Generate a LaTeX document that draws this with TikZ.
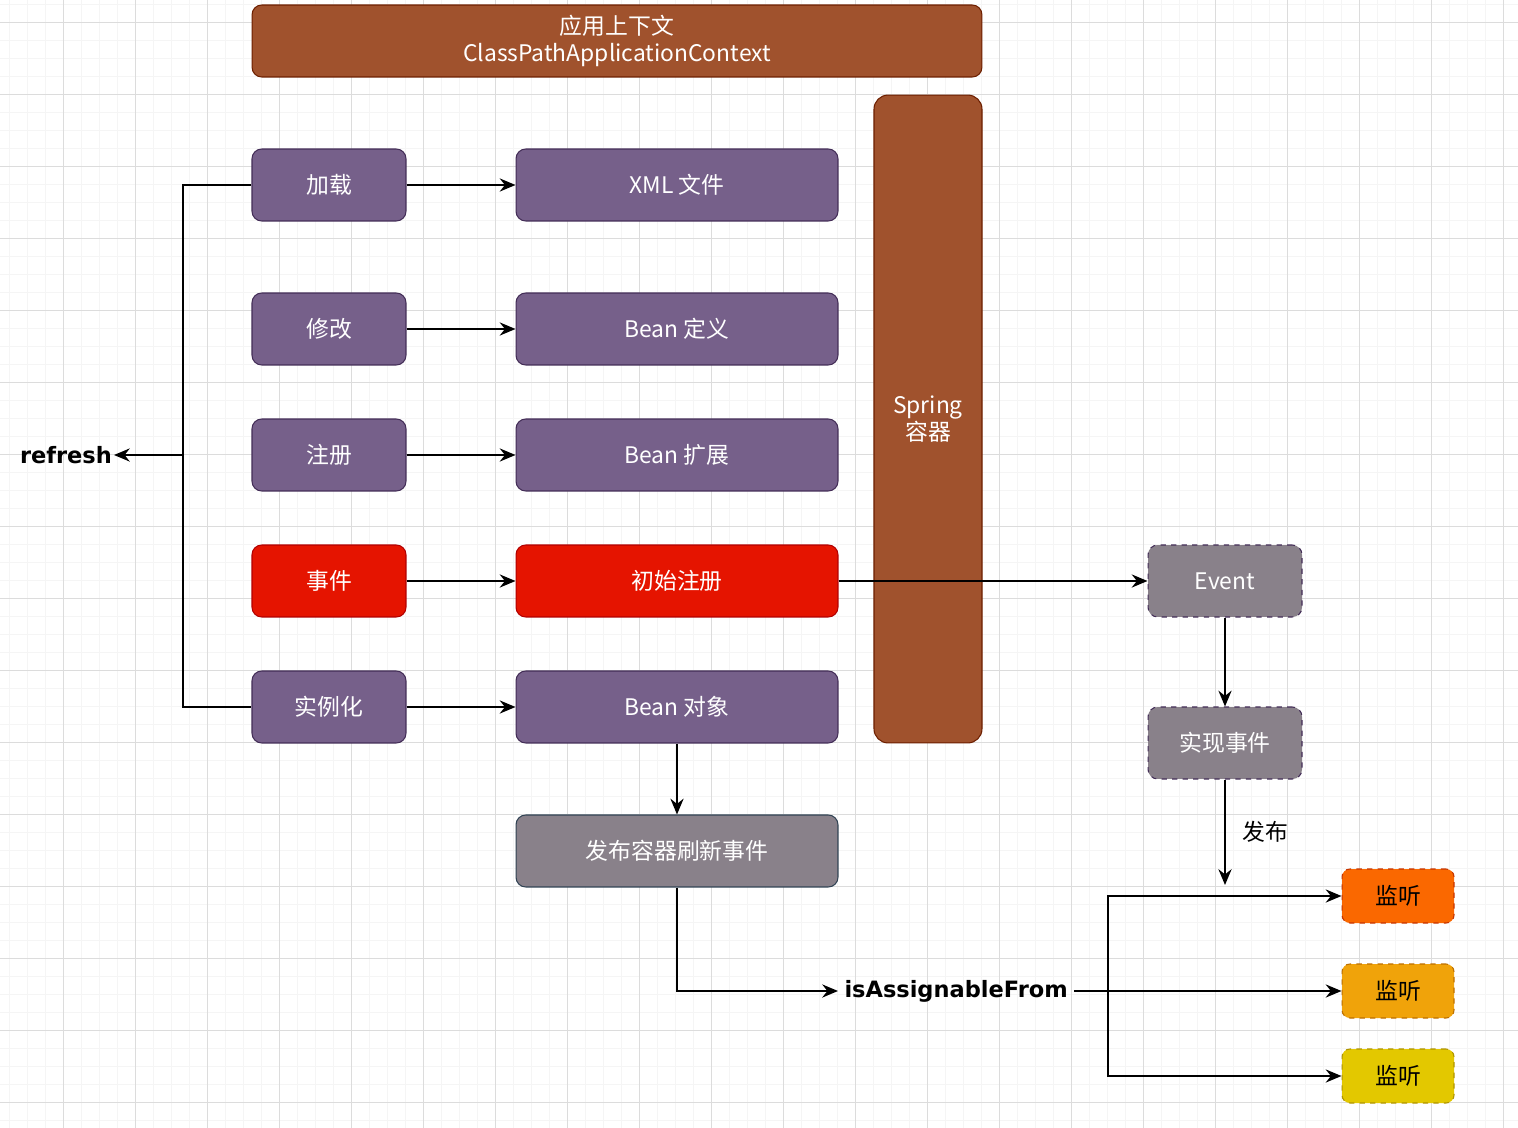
\documentclass[tikz,border=0pt]{standalone}
\usepackage{fontspec}
\setmainfont{Noto Sans CJK SC}
\newfontfamily\labelfont{DejaVu Sans}
\usetikzlibrary{arrows.meta, positioning, calc}

\definecolor{sienna}{HTML}{A0522D}
\definecolor{siennaline}{HTML}{6D1F00}
\definecolor{violet}{HTML}{76608A}
\definecolor{violetline}{HTML}{432D57}
\definecolor{redfill}{HTML}{E51400}
\definecolor{redline}{HTML}{B20000}
\definecolor{greyfill}{HTML}{89818A}
\definecolor{slateline}{HTML}{314354}
\definecolor{orangefill}{HTML}{FA6800}
\definecolor{orangeline}{HTML}{C73500}
\definecolor{amberfill}{HTML}{F0A30A}
\definecolor{amberline}{HTML}{BD7000}
\definecolor{yellowfill}{HTML}{E3C800}
\definecolor{yellowline}{HTML}{B09500}
\definecolor{gridminor}{HTML}{F5F5F5}
\definecolor{gridmajor}{HTML}{DCDCDC}

\begin{document}
\begin{tikzpicture}[
    x=0.02cm, y=-0.02cm, % one unit = one pixel of the sketch
    >={Stealth[length=9pt, width=7.5pt, inset=3pt]}, % default arrow tip
    font=\fontsize{13}{15.3}\selectfont,
    box/.style={draw=violetline, fill=violet, text=white, rounded corners=5.5pt, line width=0.6pt, align=center, inner sep=0pt}, % purple step
    leftbox/.style={box, minimum width=3.08cm, minimum height=1.44cm},
    midbox/.style={box, minimum width=6.44cm, minimum height=1.44cm},
    hot/.style={fill=redfill, draw=redline}, % red highlight
    evbox/.style={box, fill=greyfill, dashed, minimum width=3.08cm, minimum height=1.44cm},
    listen/.style={box, dashed, text=black, rounded corners=4.5pt, minimum width=2.24cm, minimum height=1.08cm},
    flow/.style={line width=1.1pt},
    tag/.style={font=\labelfont\bfseries\fontsize{12.8}{15}\selectfont, inner sep=1pt}
]

    % Background grid
    \useasboundingbox (0,0) rectangle (1518,1128);
    \fill[white] (0,0) rectangle (1518,1128);
    \foreach \x in {9,27,...,1518} \draw[gridminor, line width=0.5pt] (\x,0) -- (\x,1128);
    \foreach \y in {4,22,...,1128} \draw[gridminor, line width=0.5pt] (0,\y) -- (1518,\y);
    \foreach \x in {63,135,...,1518} \draw[gridmajor, line width=0.5pt] (\x,0) -- (\x,1128);
    \foreach \y in {22,94,...,1128} \draw[gridmajor, line width=0.5pt] (0,\y) -- (1518,\y);

    % Context and container
    \node[box, fill=sienna, draw=siennaline, minimum width=14.6cm, minimum height=1.44cm] (ctx) at (617,41) {应用上下文\\ClassPathApplicationContext};
    \node[box, fill=sienna, draw=siennaline, rounded corners=8pt, minimum width=2.16cm, minimum height=12.96cm] (spring) at (928,419) {Spring\\容器};

    % Steps on the left
    \node[leftbox] (load) at (329,185) {加载};
    \node[leftbox] (modify) at (329,329) {修改};
    \node[leftbox] (register) at (329,455) {注册};
    \node[leftbox, hot] (events) at (329,581) {事件};
    \node[leftbox] (inst) at (329,707) {实例化};

    % What each step works on
    \node[midbox] (xml) at (677,185) {XML 文件};
    \node[midbox] (def) at (677,329) {Bean 定义};
    \node[midbox] (ext) at (677,455) {Bean 扩展};
    \node[midbox, hot] (init) at (677,581) {初始注册};
    \node[midbox] (obj) at (677,707) {Bean 对象};
    \node[midbox, fill=greyfill, draw=slateline] (pub) at (677,851) {发布容器刷新事件};

    % Event side
    \node[evbox] (event) at (1225,581) {Event};
    \node[evbox] (impl) at (1225,743) {实现事件};
    \node[listen, fill=orangefill, draw=orangeline] (lis1) at (1398,896) {监听};
    \node[listen, fill=amberfill, draw=amberline] (lis2) at (1398,991) {监听};
    \node[listen, fill=yellowfill, draw=yellowline] (lis3) at (1398,1076) {监听};

    % Plain labels
    \node[tag, anchor=east] (refresh) at (114,455) {refresh};
    \node[tag, inner xsep=3.5pt, anchor=west] (assign) at (838,991) {isAssignableFrom};

    % Refresh bus
    \coordinate (bus) at (183,455);
    \draw[flow] (load.west) -| (bus) |- (inst.west);
    \draw[flow, ->] (bus) -- (refresh);

    % Step arrows
    \foreach \a/\b in {load/xml, modify/def, register/ext, events/init, inst/obj}
        \draw[flow, ->] (\a) -- (\b);

    \draw[flow, ->] (init) -- (event);
    \draw[flow, ->] (event) -- (impl);
    \coordinate (pubend) at (1225,885);
    \draw[flow, ->] (impl) -- (pubend) node[midway, right=6pt] {发布};
    \draw[flow, ->] (obj) -- (pub);
    \draw[flow, ->] (pub) |- (assign);

    % Fan out to listeners
    \coordinate (split) at (1108,991);
    \draw[flow] (assign) -- (split);
    \draw[flow, ->] (split) -- (lis2);
    \draw[flow, ->] (split) |- (lis1);
    \draw[flow, ->] (split) |- (lis3);

\end{tikzpicture}
\end{document}
